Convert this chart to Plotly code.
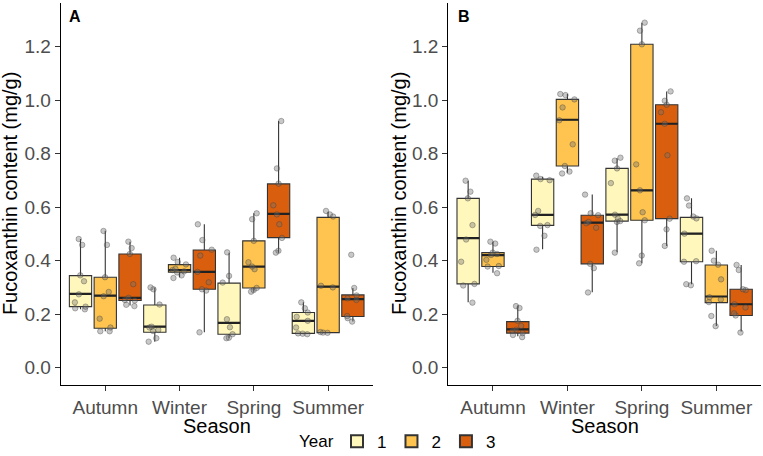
import plotly.graph_objects as go

SEASONS = ["Autumn", "Winter", "Spring", "Summer"]
YEARS = ["1", "2", "3"]
COLORS = ["#FFF7BC", "#FEC44F", "#D95F0E"]

# ---------------- Panel A : box statistics, [year][season] ----------------
A_Q1 = [[0.228, 0.132, 0.125, 0.128], [0.147, 0.357, 0.298, 0.131], [0.251, 0.293, 0.486, 0.191]]
A_MED = [[0.276, 0.153, 0.167, 0.175], [0.269, 0.365, 0.378, 0.303], [0.261, 0.358, 0.575, 0.256]]
A_Q3 = [[0.344, 0.234, 0.316, 0.206], [0.338, 0.385, 0.474, 0.562], [0.425, 0.440, 0.687, 0.272]]
A_LO = [[0.218, 0.097, 0.110, 0.125], [0.136, 0.338, 0.284, 0.130], [0.232, 0.132, 0.430, 0.172]]
A_HI = [[0.481, 0.300, 0.430, 0.244], [0.512, 0.411, 0.577, 0.583], [0.471, 0.536, 0.922, 0.298]]

# Panel A samples, [season] lists per year
A_PTS_Y1 = [[0.481, 0.459, 0.345, 0.323, 0.274, 0.244, 0.228, 0.222, 0.218],
            [0.300, 0.293, 0.236, 0.153, 0.150, 0.141, 0.137, 0.110, 0.097],
            [0.431, 0.343, 0.318, 0.181, 0.151, 0.125, 0.112, 0.110],
            [0.244, 0.222, 0.206, 0.190, 0.175, 0.150, 0.128, 0.127, 0.125]]
A_PTS_Y2 = [[0.511, 0.459, 0.338, 0.283, 0.267, 0.183, 0.150, 0.136, 0.136],
            [0.411, 0.395, 0.386, 0.370, 0.365, 0.360, 0.356, 0.345, 0.335],
            [0.577, 0.555, 0.474, 0.394, 0.378, 0.368, 0.298, 0.290, 0.284],
            [0.586, 0.573, 0.565, 0.306, 0.300, 0.133, 0.131, 0.130]]
A_PTS_Y3 = [[0.471, 0.447, 0.425, 0.312, 0.261, 0.253, 0.251, 0.235, 0.230],
            [0.536, 0.477, 0.441, 0.419, 0.358, 0.319, 0.293, 0.288, 0.132],
            [0.922, 0.745, 0.688, 0.607, 0.573, 0.536, 0.485, 0.437, 0.430],
            [0.422, 0.298, 0.270, 0.259, 0.253, 0.193, 0.185, 0.172]]

# ---------------- Panel B : box statistics, [year][season] ----------------
B_Q1 = [[0.313, 0.532, 0.548, 0.396], [0.378, 0.754, 0.551, 0.243], [0.129, 0.388, 0.557, 0.195]]
B_MED = [[0.484, 0.571, 0.572, 0.501], [0.421, 0.927, 0.663, 0.266], [0.143, 0.542, 0.912, 0.237]]
B_Q3 = [[0.633, 0.705, 0.745, 0.562], [0.430, 1.003, 1.209, 0.384], [0.172, 0.570, 0.983, 0.293]]
B_LO = [[0.244, 0.443, 0.431, 0.312], [0.355, 0.729, 0.390, 0.156], [0.117, 0.282, 0.455, 0.135]]
B_HI = [[0.699, 0.714, 0.783, 0.633], [0.471, 1.023, 1.290, 0.437], [0.232, 0.647, 1.033, 0.384]]

B_PTS_Y1 = [[0.699, 0.658, 0.633, 0.533, 0.479, 0.396, 0.313, 0.307, 0.243],
            [0.718, 0.705, 0.701, 0.586, 0.571, 0.533, 0.530, 0.493, 0.441],
            [0.785, 0.774, 0.745, 0.690, 0.572, 0.558, 0.548, 0.545, 0.430],
            [0.633, 0.606, 0.565, 0.558, 0.501, 0.398, 0.396, 0.312, 0.308]]
B_PTS_Y2 = [[0.471, 0.464, 0.430, 0.425, 0.421, 0.403, 0.380, 0.378, 0.353],
            [1.023, 1.019, 1.003, 0.973, 0.925, 0.835, 0.754, 0.733, 0.726],
            [1.290, 1.260, 1.209, 0.760, 0.663, 0.581, 0.551, 0.419, 0.390],
            [0.437, 0.400, 0.385, 0.330, 0.263, 0.255, 0.245, 0.193, 0.155]]
B_PTS_Y3 = [[0.230, 0.223, 0.175, 0.156, 0.142, 0.138, 0.129, 0.122, 0.114],
            [0.647, 0.577, 0.570, 0.545, 0.540, 0.523, 0.388, 0.372, 0.281],
            [1.033, 0.998, 0.983, 0.955, 0.912, 0.794, 0.557, 0.517, 0.455],
            [0.384, 0.365, 0.293, 0.290, 0.237, 0.225, 0.203, 0.195, 0.131]]

Y_TICKS = [0.0, 0.2, 0.4, 0.6, 0.8, 1.0, 1.2]
Y_TICKTEXT = ["0.0", "0.2", "0.4", "0.6", "0.8", "1.0", "1.2"]

FONT = "Liberation Sans, Arial, sans-serif"
W, H = 763, 456

fig = go.Figure()


def add_panel(q1, med, q3, lo, hi, pts, xa, ya, legend):
    # boxes
    for k in range(3):
        fig.add_trace(go.Box(
            x=SEASONS, q1=q1[k], median=med[k], q3=q3[k],
            lowerfence=lo[k], upperfence=hi[k],
            name=YEARS[k], legendgroup=YEARS[k], showlegend=legend,
            offsetgroup=YEARS[k], fillcolor=COLORS[k],
            line=dict(color="#333333", width=1.1), whiskerwidth=0,
            boxpoints=False, xaxis=xa, yaxis=ya, hoverinfo="skip"))
    # thicker median lines
    for k in range(3):
        fig.add_trace(go.Box(
            x=SEASONS, q1=med[k], median=med[k], q3=med[k],
            lowerfence=med[k], upperfence=med[k],
            name=YEARS[k], legendgroup=YEARS[k], showlegend=False,
            offsetgroup=YEARS[k], fillcolor="rgba(0,0,0,0)",
            line=dict(color="#222222", width=2.2), whiskerwidth=0,
            boxpoints=False, xaxis=xa, yaxis=ya, hoverinfo="skip"))
    # jittered samples
    for k in range(3):
        xs, ys = [], []
        for s, vals in zip(SEASONS, pts[k]):
            xs += [s] * len(vals)
            ys += vals
        fig.add_trace(go.Box(
            x=xs, y=ys, name=YEARS[k], legendgroup=YEARS[k], showlegend=False,
            offsetgroup=YEARS[k], boxpoints="all", jitter=0.75, pointpos=0,
            fillcolor="rgba(0,0,0,0)", line=dict(color="rgba(0,0,0,0)", width=0),
            whiskerwidth=0,
            marker=dict(size=5.5, color="rgba(110,110,110,0.38)",
                        line=dict(color="rgba(60,60,60,0.45)", width=0.8)),
            xaxis=xa, yaxis=ya, hoverinfo="y"))


add_panel(A_Q1, A_MED, A_Q3, A_LO, A_HI, [A_PTS_Y1, A_PTS_Y2, A_PTS_Y3], "x", "y", True)
add_panel(B_Q1, B_MED, B_Q3, B_LO, B_HI, [B_PTS_Y1, B_PTS_Y2, B_PTS_Y3], "x2", "y2", False)

top_px, bot_px = 2.6, 385
ydom = [(H - bot_px) / H, (H - top_px) / H]
xdomA = [60.7 / W, 372.7 / W]
xdomB = [448.3 / W, 761 / W]

xax = dict(type="category", categoryorder="array", categoryarray=SEASONS,
           range=[-0.6, 3.6], showline=True, linecolor="black", linewidth=1.1,
           ticks="outside", ticklen=5, tickcolor="#333333", tickwidth=1.1,
           tickfont=dict(family=FONT, size=19, color="#4D4D4D"),
           showgrid=False, zeroline=False, fixedrange=True, automargin=False)
yax = dict(range=[-0.065, 1.365], tickvals=Y_TICKS, ticktext=Y_TICKTEXT,
           showline=True, linecolor="black", linewidth=1.1,
           ticks="outside", ticklen=5, tickcolor="#333333", tickwidth=1.1,
           tickfont=dict(family=FONT, size=19, color="#4D4D4D"),
           showgrid=False, zeroline=False, fixedrange=True, automargin=False)

fig.update_layout(
    width=W, height=H, margin=dict(l=0, r=0, t=0, b=0, autoexpand=False),
    paper_bgcolor="white", plot_bgcolor="white",
    font=dict(family=FONT, color="black"),
    boxmode="group", boxgap=0, boxgroupgap=0.1,
    xaxis=dict(xax, domain=xdomA, anchor="y"),
    yaxis=dict(yax, domain=ydom, anchor="x"),
    xaxis2=dict(xax, domain=xdomB, anchor="y2"),
    yaxis2=dict(yax, domain=ydom, anchor="x2"),
    legend=dict(orientation="h", x=337 / W, xanchor="left", y=(H - 441.7) / H, yanchor="middle",
                font=dict(family=FONT, size=17, color="black"),
                bgcolor="rgba(0,0,0,0)", itemsizing="constant", traceorder="normal"),
    showlegend=True,
)

ann = []
ann.append(dict(x=296.7 / W, y=(H - 441.7) / H, xref="paper", yref="paper", text="Year",
                showarrow=False, xanchor="left", yanchor="middle",
                font=dict(family=FONT, size=17, color="black")))
for xc, label in [((xdomA[0] + xdomA[1]) / 2, "Season"), ((xdomB[0] + xdomB[1]) / 2, "Season")]:
    ann.append(dict(x=xc, y=(H - 425.7) / H, xref="paper", yref="paper", text=label,
                    showarrow=False, xanchor="center", yanchor="middle",
                    font=dict(family=FONT, size=20, color="black")))
for xp in [10.3, 398.3]:
    ann.append(dict(x=xp / W, y=(H - (top_px + bot_px) / 2) / H, xref="paper", yref="paper",
                    text="Fucoxanthin content (mg/g)", textangle=-90, showarrow=False,
                    xanchor="center", yanchor="middle",
                    font=dict(family=FONT, size=20, color="black")))
for xp, lab in [(75.3, "A"), (464.3, "B")]:
    ann.append(dict(x=xp / W, y=(H - 17) / H, xref="paper", yref="paper", text="<b>%s</b>" % lab,
                    showarrow=False, xanchor="center", yanchor="middle",
                    font=dict(family=FONT, size=16, color="black")))
fig.update_layout(annotations=ann)

fig.write_html("out.html", config={"displayModeBar": False},
               post_script="document.body.style.margin='0px';document.body.style.overflow='hidden';")
